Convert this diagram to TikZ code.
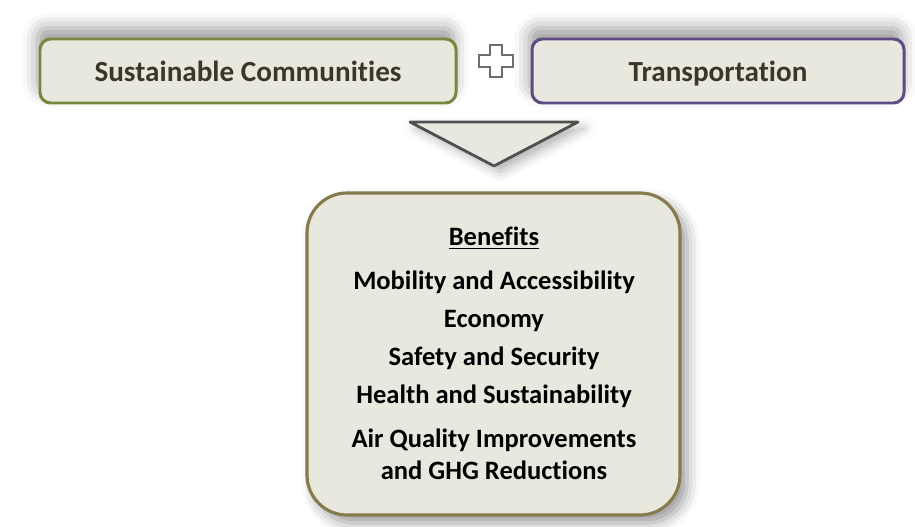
\documentclass[tikz,border=0pt]{standalone}
\usepackage{fontspec}
\setmainfont{Carlito}[Ligatures=NoCommon]
\usetikzlibrary{shadows.blur}

\definecolor{boxfill}{HTML}{E9E8DF}
\definecolor{commgreen}{HTML}{76883E}
\definecolor{transpurple}{HTML}{5D4B84}
\definecolor{benefitolive}{HTML}{857B4C}
\definecolor{arrowgray}{HTML}{505050}
\definecolor{plusgray}{HTML}{6E6E6E}
\definecolor{titletext}{HTML}{3A3729}

\tikzset{
  topbox/.style={draw, line width=1.7pt, fill=boxfill, rounded corners=6pt,
    minimum height=1.28cm, text depth=0pt, text=titletext,
    font=\fontsize{16.6}{20}\selectfont\bfseries,
    blur shadow={shadow xshift=-0.05cm, shadow yshift=0.22cm, shadow blur radius=0.3cm, shadow opacity=40}},
  benefit/.style={font=\fontsize{15.1}{18}\selectfont\bfseries, align=center}
}

\begin{document}
\begin{tikzpicture}
  \useasboundingbox (0,0) rectangle (18.3,-10.54);

  % the two inputs
  \node[topbox, draw=commgreen, minimum width=8.32cm] (comm) at (4.96,-1.42) {Sustainable Communities};
  \node[topbox, draw=transpurple, minimum width=7.44cm] (trans) at (14.36,-1.42) {Transportation};

  % plus sign between them
  \draw[plusgray, fill=white, line width=0.9pt]
    (9.80,-0.90) -- (10.04,-0.90) -- (10.04,-1.10) -- (10.26,-1.10) -- (10.26,-1.34)
    -- (10.04,-1.34) -- (10.04,-1.54) -- (9.80,-1.54) -- (9.80,-1.34) -- (9.58,-1.34)
    -- (9.58,-1.10) -- (9.80,-1.10) -- cycle;

  % downward arrow
  \draw[arrowgray, fill=boxfill, line width=1.6pt, line join=round,
    blur shadow={shadow xshift=0.12cm, shadow yshift=-0.12cm, shadow blur radius=0.2cm, shadow opacity=30}]
    (8.20,-2.44) -- (11.56,-2.44) -- (9.88,-3.32) -- cycle;

  % result box
  \node[draw=benefitolive, line width=1.8pt, fill=boxfill, rounded corners=0.8cm,
    minimum width=7.46cm, minimum height=6.44cm,
    blur shadow={shadow xshift=0.14cm, shadow yshift=-0.16cm, shadow blur radius=0.25cm, shadow opacity=40}]
    (benefits) at (9.87,-7.08) {};

  \node[benefit] (head) at (9.88,-4.76) {\underline{Benefits}};
  \node[benefit] (mob) at (9.88,-5.64) {Mobility and Accessibility};
  \node[benefit] (eco) at (9.88,-6.42) {Economy};
  \node[benefit] (safe) at (9.88,-7.16) {Safety and Security};
  \node[benefit] (health) at (9.88,-7.92) {Health and Sustainability};
  \node[benefit] (air) at (9.88,-9.09) {Air Quality Improvements\\and GHG Reductions};
\end{tikzpicture}
\end{document}
